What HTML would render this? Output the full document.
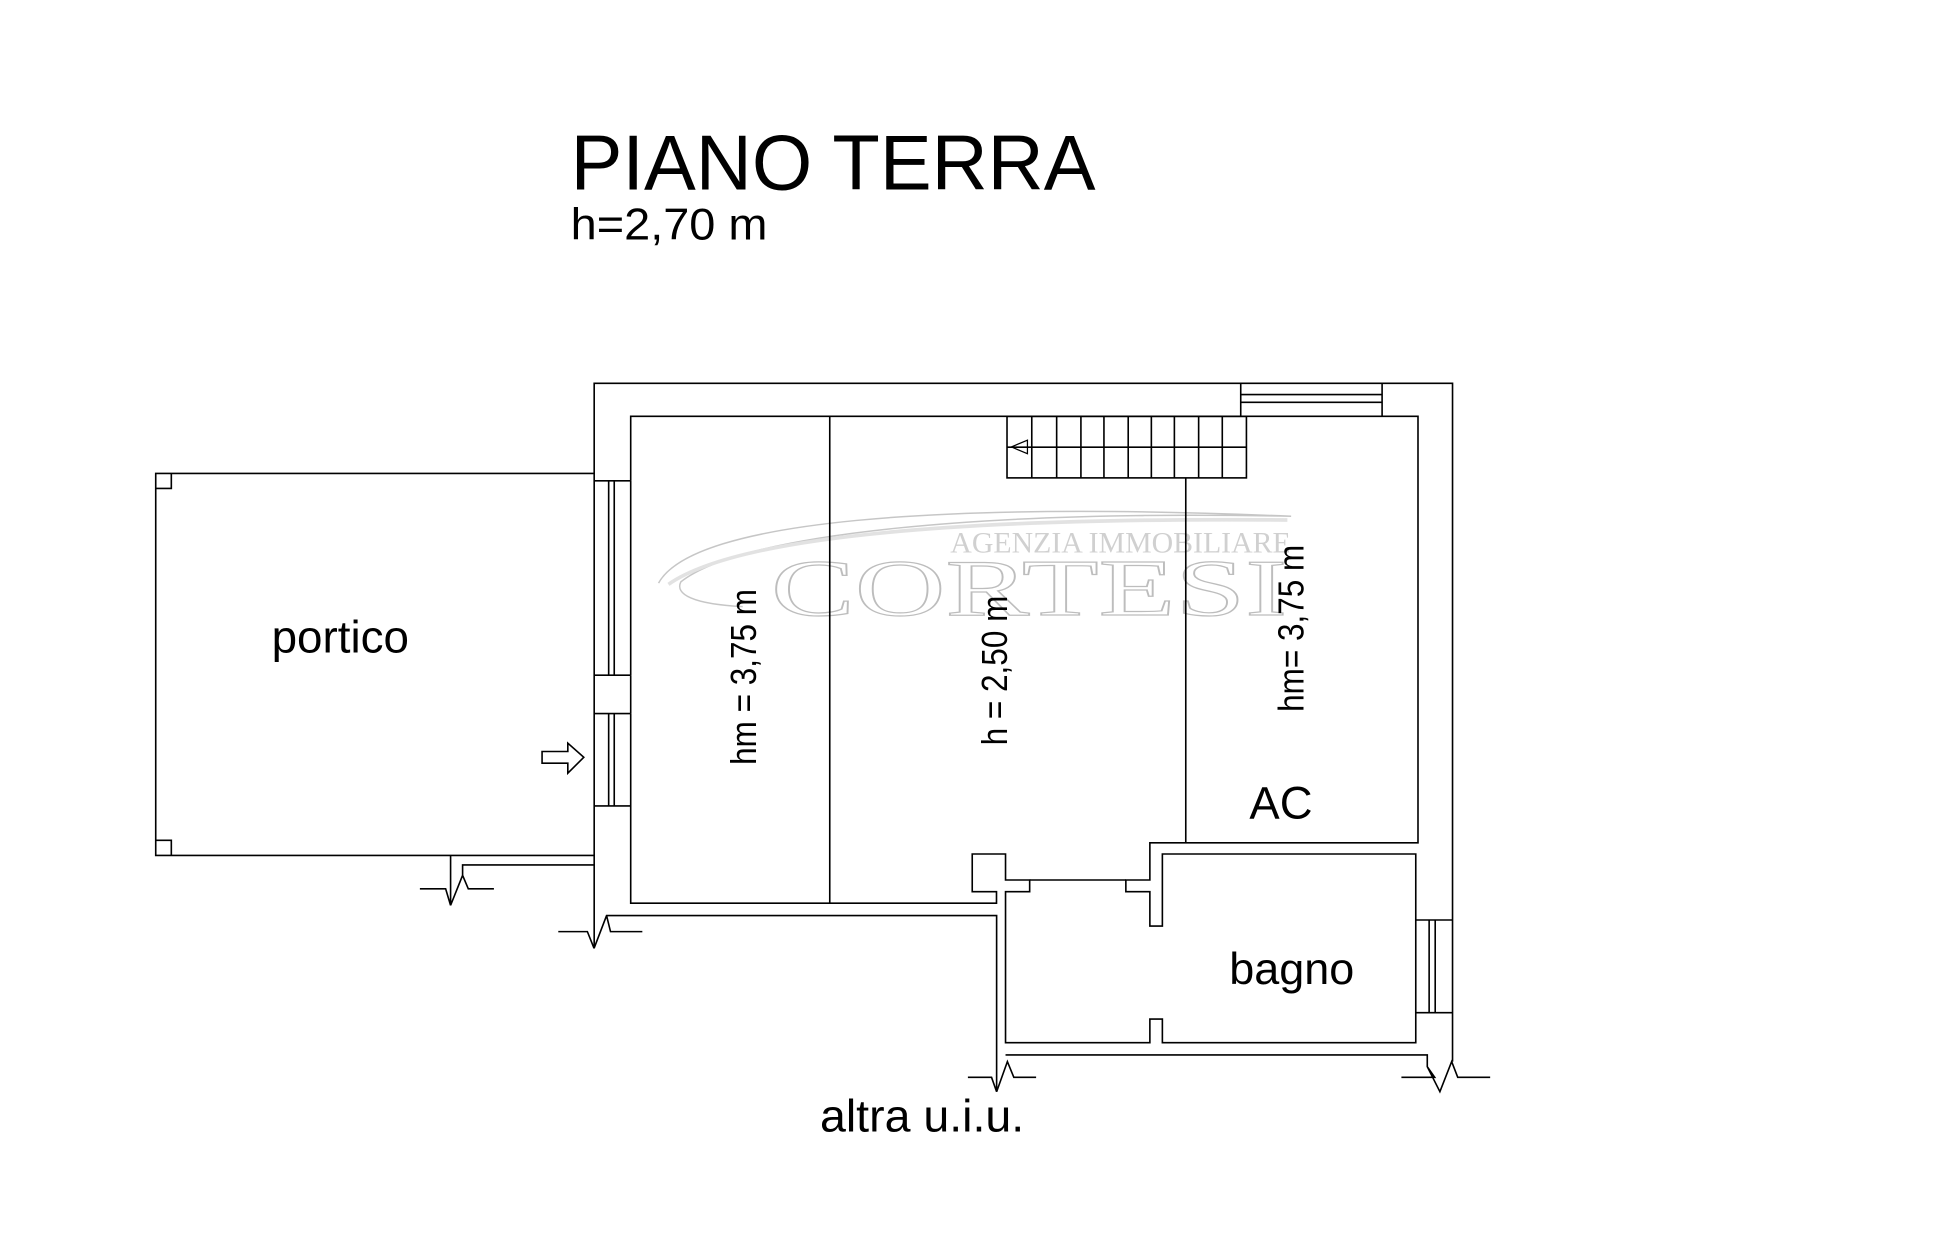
<!DOCTYPE html>
<html><head><meta charset="utf-8"><style>
html,body{margin:0;padding:0;background:#fff;}
svg{display:block;}
text{font-family:"Liberation Sans",Arial,sans-serif;fill:#000;}
</style></head><body>
<svg width="1941" height="1243" viewBox="0 0 1568 1004" preserveAspectRatio="none" xmlns="http://www.w3.org/2000/svg">
<rect width="1568" height="1004" fill="#fff"/>
<!-- watermark -->
<g opacity="0.55">
<path d="M532,471 C560,420 760,405 1043,417 C800,412 600,430 550,470 C545,480 560,488 600,490" fill="none" stroke="#999" stroke-width="1.2"/>
<path d="M540,472 C600,430 800,418 1040,420" fill="none" stroke="#ccc" stroke-width="3"/>
<text x="767.7" y="446.4" textLength="275" lengthAdjust="spacingAndGlyphs" style="font-family:'Liberation Serif',serif;font-size:24px;fill:#aaa">AGENZIA IMMOBILIARE</text>
<text x="622.8" y="496.8" textLength="417" lengthAdjust="spacingAndGlyphs" style="font-family:'Liberation Serif',serif;font-size:65px;fill:#fff;stroke:#888;stroke-width:1">CORTESI</text>
</g>
<g fill="none" stroke="#000" stroke-width="1.3">
<path d="M480,766 L480,309.6 L1173.4,309.6 L1173.4,857.5"/>
<path d="M509.5,651 L509.5,729.5 L805,729.5 L805,720.2 L785.4,720.2 L785.4,689.8 L812.3,689.8 L812.3,710.8 L831.8,710.8 L831.8,720.2 L812.3,720.2 L812.3,842.2 L928.9,842.2 L928.9,823.1 L939,823.1 L939,842.2 L1143.7,842.2 L1143.7,689.8 L939,689.8 L939,748 L928.9,748 L928.9,720.2 L909.5,720.2 L909.5,710.8 L928.9,710.8 L928.9,680.8 L1145.5,680.8 L1145.5,336.3 L509.5,336.3 L509.5,388.4"/>
<line x1="509.5" y1="545.4" x2="509.5" y2="576.4"/>
<line x1="831.8" y1="710.8" x2="909.5" y2="710.8"/>
<line x1="670.3" y1="336.3" x2="670.3" y2="729.5"/>
<line x1="957.9" y1="386" x2="957.9" y2="680.8"/>
<path d="M480,388.4 H509.5 M480,545.4 H509.5 M480,576.4 H509.5 M480,651 H509.5 M509.5,388.4 V545.4 M509.5,576.4 V651"/>
<path d="M491.7,388.4 V545.4 M496.2,388.4 V545.4 M491.7,576.4 V651 M496.2,576.4 V651"/>
<path d="M1002.3,309.6 V336.3 M1116.5,309.6 V336.3 M1002.3,318.7 H1116.5 M1002.3,325 H1116.5"/>
<path d="M1143.7,743.1 H1173.4 M1143.7,818 H1173.4 M1154.5,743.1 V818 M1159.4,743.1 V818"/>
<rect x="813.5" y="336.3" width="193.4" height="49.7"/>
<line x1="813.5" y1="361.2" x2="1006.9" y2="361.2"/>
<path d="M833.5,336.3V386 M853.6,336.3V386 M873.2,336.3V386 M891.8,336.3V386 M911.4,336.3V386 M930.1,336.3V386 M948.7,336.3V386 M968.3,336.3V386 M987.4,336.3V386"/>
<path d="M817,361 L830,355.5 L830,366.5 Z" stroke-width="1"/>
<path d="M480,382.4 H125.8 V691 H480"/>
<path d="M125.8,394.5 H138.4 V382.4 M125.8,678.7 H138.4 V691"/>
<path d="M437.9,607 H458.7 V600.3 L471.6,611.7 L458.7,624.5 V616.4 H437.9 Z"/>
<path d="M364,691 V731.3 L360,717.9 H339.2 M364,731.3 L373.7,707 V698.6 H480 M373.7,707 L378.3,717.9 H399"/>
<path d="M479.9,766 L474.5,752.5 H451 M479.9,766 L490,739.5 H805.1 V881.8 L801,870.2 H781.9 M490,739.5 L493.2,752.5 H518.9"/>
<path d="M805.1,881.8 L813.8,857.5 L819,870.2 H837 M812.3,852.1 H1153 V861.6 L1163.2,881.8 L1172.7,857.5 L1177.6,870.2 H1203.8 M1153,861.6 L1159,870.2 H1132.1"/>
</g>
<text x="461" y="153" textLength="424" lengthAdjust="spacingAndGlyphs" style="font-size:63px">PIANO TERRA</text>
<text x="461" y="193.3" textLength="159" lengthAdjust="spacingAndGlyphs" style="font-size:36px">h=2,70 m</text>
<text x="219.4" y="527" textLength="111" lengthAdjust="spacingAndGlyphs" style="font-size:37px">portico</text>
<text x="1009.3" y="661.3" textLength="51" lengthAdjust="spacingAndGlyphs" style="font-size:37px">AC</text>
<text x="993" y="795" textLength="101" lengthAdjust="spacingAndGlyphs" style="font-size:36px">bagno</text>
<text x="662.4" y="914.1" textLength="165" lengthAdjust="spacingAndGlyphs" style="font-size:37px">altra u.i.u.</text>
<text transform="translate(610.7,617.8) rotate(-90)" textLength="142" lengthAdjust="spacingAndGlyphs" style="font-size:29px">hm = 3,75 m</text>
<text transform="translate(813.5,602.1) rotate(-90)" textLength="121" lengthAdjust="spacingAndGlyphs" style="font-size:29px">h = 2,50 m</text>
<text transform="translate(1053,575) rotate(-90)" textLength="135" lengthAdjust="spacingAndGlyphs" style="font-size:29px">hm= 3,75 m</text>
</svg>
</body></html>
